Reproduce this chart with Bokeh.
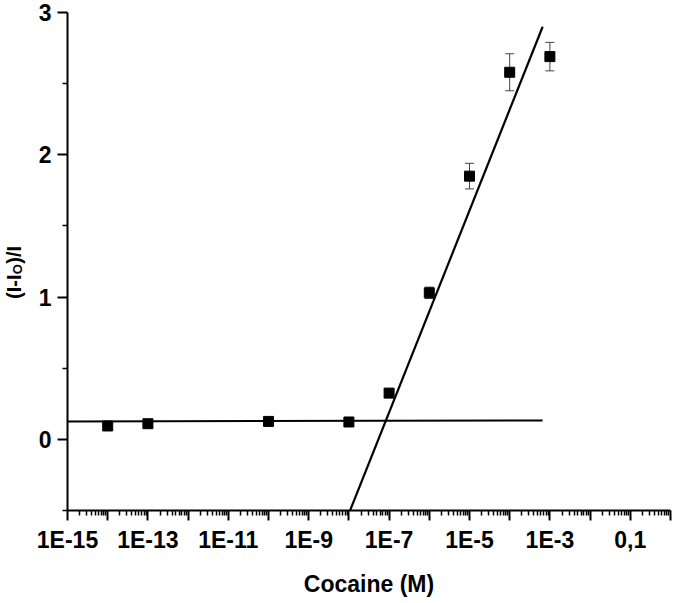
import math
from bokeh.plotting import figure
from bokeh.layouts import row
from bokeh.models import (Range1d, FixedTicker, CustomJSTickFormatter, ColumnDataSource,
                          Whisker, TeeHead, Label)
from bokeh.embed import file_html
from bokeh.resources import INLINE

# ---- data ----
conc = [1e-14, 1e-13, 1e-10, 1e-8, 1e-7, 1e-6, 1e-5, 1e-4, 1e-3]
response = [0.094, 0.110, 0.126, 0.122, 0.325, 1.03, 1.85, 2.58, 2.69]
error = [0.0, 0.0, 0.0, 0.0, 0.0, 0.04, 0.09, 0.13, 0.10]

baseline_fit_x = [1e-15, 6.6e-4]
baseline_fit_y = [0.125, 0.133]
linear_fit_x = [1.07e-8, 6.6e-4]
linear_fit_y = [-0.5, 2.90]

x_tick_exponents = list(range(-15, 1))
x_label_exponents = [-15, -13, -11, -9, -7, -5, -3, -1]
x_label_texts = ["1E-15", "1E-13", "1E-11", "1E-9", "1E-7", "1E-5", "1E-3", "0,1"]
y_major_ticks = [0, 1, 2, 3]
y_minor_ticks = [-0.5, 0.5, 1.5, 2.5]

FONT = "Liberation Sans"
H = 602
LW = 30  # width of the strip holding the y-axis title

yr = Range1d(-0.5, 3)
p = figure(width=674 - LW, height=H, x_axis_type="log",
           x_range=Range1d(1e-15, 1), y_range=yr,
           output_backend="svg", toolbar_location=None,
           min_border_left=67 - LW, min_border_right=4, min_border_top=12, min_border_bottom=92)
p.outline_line_color = None
p.grid.visible = False
p.background_fill_color = "white"

# x axis
decades = [10.0 ** e for e in x_tick_exponents]
minors = [m * 10.0 ** e for e in x_tick_exponents[:-1] for m in range(2, 10)]
p.xaxis.ticker = FixedTicker(ticks=decades, minor_ticks=minors)
p.xaxis.formatter = CustomJSTickFormatter(
    args=dict(exps=x_label_exponents, labs=x_label_texts),
    code="const e = Math.round(Math.log10(tick)); const i = exps.indexOf(e); return i >= 0 ? labs[i] : '';")
p.xaxis.axis_label = "Cocaine (M)"
p.xaxis.axis_label_text_font = FONT
p.xaxis.axis_label_text_font_style = "bold"
p.xaxis.axis_label_text_font_size = "23px"
p.xaxis.axis_label_text_color = "black"
p.xaxis.axis_label_standoff = 15
p.xaxis.major_label_standoff = 6

# y axis
p.yaxis.ticker = FixedTicker(ticks=y_major_ticks, minor_ticks=y_minor_ticks)
p.yaxis.major_label_standoff = 6

for ax in (p.xaxis, p.yaxis):
    ax.axis_line_width = 2
    ax.axis_line_color = "black"
    ax.major_tick_line_width = 2
    ax.minor_tick_line_width = 1.5
    ax.major_tick_line_color = "black"
    ax.minor_tick_line_color = "black"
    ax.major_tick_out = 10
    ax.major_tick_in = 0
    ax.minor_tick_out = 5
    ax.minor_tick_in = 0
    ax.major_label_text_font = FONT
    ax.major_label_text_font_style = "bold"
    ax.major_label_text_font_size = "23px"
    ax.major_label_text_color = "black"

# fit lines
p.line(baseline_fit_x, baseline_fit_y, line_color="black", line_width=2)
p.line(linear_fit_x, linear_fit_y, line_color="black", line_width=2.2)

# error bars
ex = [c for c, e in zip(conc, error) if e > 0]
ey = [r for r, e in zip(response, error) if e > 0]
ee = [e for e in error if e > 0]
err_src = ColumnDataSource(dict(x=ex, upper=[a + b for a, b in zip(ey, ee)],
                                lower=[a - b for a, b in zip(ey, ee)]))
p.add_layout(Whisker(source=err_src, base="x", upper="upper", lower="lower", dimension="height",
                     line_color="#444444", line_width=1,
                     upper_head=TeeHead(size=9, line_color="#444444", line_width=1),
                     lower_head=TeeHead(size=9, line_color="#444444", line_width=1)))

# data points
p.scatter(conc, response, marker="square", size=10, fill_color="black", line_color="black")

# ---- y-axis title strip: (I-I_O)/I, built from text pieces ----
t = figure(width=LW, height=H, x_range=Range1d(0, LW), y_range=yr,
           output_backend="svg", toolbar_location=None,
           x_axis_location=None, y_axis_location=None,
           min_border_left=0, min_border_right=0, min_border_top=12, min_border_bottom=92)
t.outline_line_color = None
t.grid.visible = False

ylab_kw = dict(angle=math.pi / 2, text_font=FONT, text_font_style="bold", text_color="black",
               text_align="left", text_baseline="middle")
t.add_layout(Label(x=13, y=0.987, text="(I-I", text_font_size="20px", **ylab_kw))
t.add_layout(Label(x=17, y=1.160, text="O", text_font_size="13px", **ylab_kw))
t.add_layout(Label(x=13, y=1.235, text=")/I", text_font_size="20px", **ylab_kw))

layout = row(t, p)
open("out.html", "w").write(file_html(layout, INLINE))
